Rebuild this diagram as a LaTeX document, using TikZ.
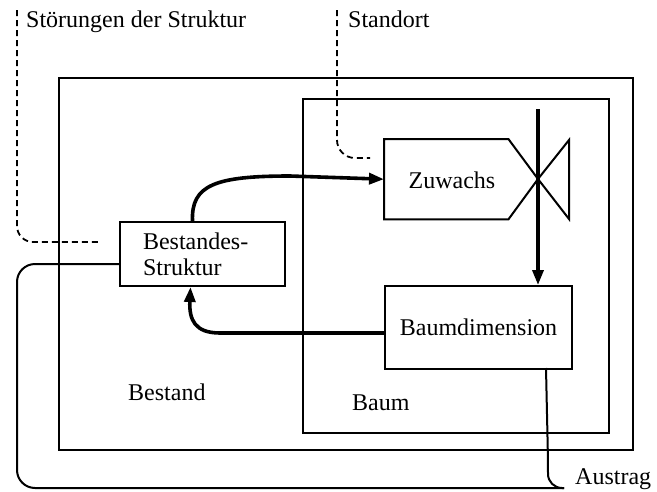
\documentclass[tikz,border=0pt]{standalone}
\usepackage{fontspec}
\setmainfont{Liberation Serif}
\usetikzlibrary{arrows.meta}
\begin{document}
\begin{tikzpicture}[x=1pt,y=-1pt,
  frame/.style={draw,line width=2pt},
  block/.style={draw,line width=2pt,anchor=north west,inner sep=0pt},
  label/.style={font=\fontsize{24}{26}\selectfont,inner sep=0pt},
  flow/.style={line width=3.6pt,-{Triangle[length=15pt,width=11pt]}},
  thin/.style={line width=2pt},
  influence/.style={line width=1.8pt,dash pattern=on 6pt off 4pt}]
\useasboundingbox (0,0) rectangle (657,491);

% system frames: stand and tree
\draw[frame] (59,78) rectangle (633,450);
\draw[frame] (303,99) rectangle (609,433);
\node[label,anchor=base west] (bestand) at (128,400) {Bestand};
\node[label,anchor=base west] (baum) at (352,410) {Baum};

% state variables
\node[block,minimum width=165pt,minimum height=64pt,text width=119pt,inner xsep=23pt,align=left,
      font=\fontsize{24}{26}\selectfont] (bs) at (119,221) {Bestandes-\\Struktur};
\node[block,minimum width=187pt,minimum height=83pt,font=\fontsize{24}{26}\selectfont] (bd) at (384,285) {Baumdimension};

% growth rate with valve
\node[anchor=north west,minimum width=124pt,minimum height=80pt,inner sep=0pt] (zu) at (384,139) {};
\node[label] at (452,180) {Zuwachs};
\draw[frame,line join=miter] (zu.north west) -- (zu.north east) -- (538,179) -- (zu.south east) -- (zu.south west) -- cycle;
\draw[frame,line join=miter] (538,179) -- (569,140) -- (569,219) -- cycle;
\coordinate (valvetop) at (538,109);
\draw[line width=3.4pt,-{Triangle[length=15pt,width=11pt]}] (valvetop) -- (538,285);

% feedback loop between stand structure and growth
\draw[flow] ([xshift=-10pt]bs.north) .. controls (191,185) and (215,176) .. (290,176) -- (zu.west);
\draw[flow] (bd.west |- 0,333) -- (220,333) .. controls (195,333) and (189,320) .. ([xshift=-12pt]bs.south);

% outflow
\coordinate (aus) at (564,488);
\node[label,anchor=base west] (austrag) at (575,484) {Austrag};
\draw[thin,rounded corners=18pt] ([yshift=-10pt]bs.west) -| (17,488) -- (aus);
\draw[thin,rounded corners=14pt] (546,368) -- (548,460) |- (aus);

% external influences
\coordinate (stoer) at (17,10);
\coordinate (stand) at (337,10);
\node[label,anchor=base west] (stoertext) at (26,27) {Störungen der Struktur};
\node[label,anchor=base west] (standtext) at (348,27) {Standort};
\draw[influence,rounded corners=16pt] (stoer) |- (100,242);
\draw[influence,rounded corners=18pt] (stand) |- (370,158);
\end{tikzpicture}
\end{document}
